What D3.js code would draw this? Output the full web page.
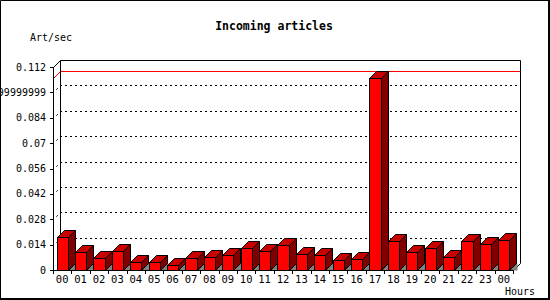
<!DOCTYPE html>
<html>
<head>
<meta charset="utf-8">
<script src="https://cdn.jsdelivr.net/npm/d3@7"></script>
<style>
html,body{margin:0;padding:0;background:#fff;}
svg{display:block;}
text{font-family:"DejaVu Sans Mono",monospace;fill:#000;}
</style>
</head>
<body>
<svg id="chart" width="550" height="300"></svg>
<script>
const hours = ["00","01","02","03","04","05","06","07","08","09","10","11","12","13","14","15","16","17","18","19","20","21","22","23","00"];
const values = [0.0181,0.0098,0.0064,0.0103,0.0042,0.0042,0.0026,0.0064,0.0070,0.0081,0.0120,0.0103,0.0136,0.0087,0.0081,0.0054,0.0059,0.1058,0.0158,0.0098,0.0120,0.0070,0.0158,0.0142,0.0164];
const yTicks = [0,0.014,0.028,0.042,0.056,0.07,0.084,0.098,0.112];
const yTickLabels = ["0","0.014","0.028","0.042","0.056","0.07","0.084","0.09799999999999999","0.112"];
const title = "Incoming articles";
const yTitle = "Art/sec";
const xTitle = "Hours";

const svg = d3.select("#chart");
const D = 7; // 3D depth
const x0 = 53, x1 = 513, yBase = 270, yTop = 67;

const x = d3.scaleBand().domain(d3.range(hours.length)).range([x0, x1]).paddingInner(0.4).paddingOuter(0.2);
const y = d3.scaleLinear().domain([0, 0.112]).range([yBase, yTop]);

svg.append("rect").attr("x",0).attr("y",0).attr("width",550).attr("height",300).attr("fill","#fff");

// title texts
svg.append("text").attr("x",274).attr("y",30).attr("text-anchor","middle")
  .style("font-size","11.5px").style("font-weight","bold").text(title);
svg.append("text").attr("x",30).attr("y",41).style("font-size","10px").text(yTitle);
svg.append("text").attr("x",505).attr("y",295).style("font-size","10px").text(xTitle);

// back wall gridlines
const grid = svg.append("g");
yTicks.slice(1, -1).forEach(v => {
  const yf = Math.round(y(v)) + 0.5;
  grid.append("line").attr("x1",x0+D).attr("x2",x1+D).attr("y1",yf-D).attr("y2",yf-D)
    .attr("stroke","#000").attr("stroke-dasharray","2,3");
  grid.append("line").attr("x1",x0+0.5).attr("x2",x0+D+0.5).attr("y1",yf).attr("y2",yf-D)
    .attr("stroke","#000").attr("stroke-dasharray","2,4").attr("stroke-dashoffset",-4);
});

// max line
const maxV = d3.max(values);
const ym = Math.round(y(maxV)) + 0.5;
svg.append("polyline").attr("fill","none").attr("stroke","#f00")
  .attr("points", `${x0+0.5},${ym} ${x0+D+0.5},${ym-D} ${x1+D+0.5},${ym-D}`);

// back frame
const frame = svg.append("g").attr("fill","none").attr("stroke","#000");
frame.append("polyline").attr("points",
  `${x0+0.5},${yTop+0.5} ${x0+D+0.5},${yTop-D+0.5} ${x1+D+0.5},${yTop-D+0.5} ${x1+D+0.5},${yBase-D+0.5} ${x1+0.5},${yBase+0.5}`);
frame.append("line").attr("x1",x0+D+0.5).attr("x2",x0+D+0.5).attr("y1",yTop-D+0.5).attr("y2",yBase-D+0.5);

// bars
const bars = svg.append("g").attr("stroke","#000").attr("stroke-width",1).attr("stroke-linejoin","miter");
values.forEach((v, i) => {
  const xl = Math.round(x(i)) + 0.5;
  const xr = Math.round(x(i) + x.bandwidth()) + 0.5;
  const yt = Math.round(y(v)) + 0.5;
  const yb = yBase + 0.5;
  bars.append("polygon").attr("fill","#808080").attr("stroke","none")
    .attr("points", `${xr},${yb} ${xr+D},${yb-D} ${xr+D+1},${yb-D} ${xr+D+1},${yb} `);
  bars.append("polygon").attr("fill","#800000")
    .attr("points", `${xr},${yb} ${xr},${yt} ${xr+D},${yt-D} ${xr+D},${yb-D}`);
  bars.append("polygon").attr("fill","#c80000")
    .attr("points", `${xl},${yt} ${xl+D},${yt-D} ${xr+D},${yt-D} ${xr},${yt}`);
  bars.append("rect").attr("fill","#ff0000")
    .attr("x", xl).attr("y", yt).attr("width", xr-xl).attr("height", yb-yt);
});

// front axes
const ax = svg.append("g").attr("stroke","#000").attr("fill","none");
ax.append("line").attr("x1",x0+0.5).attr("x2",x0+0.5).attr("y1",yTop).attr("y2",yBase+4);
ax.append("line").attr("x1",x0-3).attr("x2",x1+1).attr("y1",yBase+0.5).attr("y2",yBase+0.5);
yTicks.forEach(v => {
  const yf = Math.round(y(v)) + 0.5;
  ax.append("line").attr("x1",x0-3).attr("x2",x0).attr("y1",yf).attr("y2",yf);
});
d3.range(hours.length + 1).forEach(k => {
  const xt = Math.round(x0 + k * x.step()) + 0.5;
  ax.append("line").attr("x1",xt).attr("x2",xt).attr("y1",yBase).attr("y2",yBase+4);
});

// labels
svg.append("g").selectAll("text").data(yTicks).join("text")
  .attr("x",46).attr("y",d => y(d)).attr("dy","0.35em").attr("text-anchor","end")
  .style("font-size","10px").text((d,i) => yTickLabels[i]);
svg.append("g").selectAll("text").data(hours).join("text")
  .attr("x",(d,i) => x(i) + x.bandwidth()/2).attr("y",283).attr("text-anchor","middle")
  .style("font-size","10.5px").text(d => d);

// outer border
svg.append("path").attr("fill","none").attr("stroke","#000")
  .attr("d","M0.5,299 L0.5,0.5 L548,0.5");
svg.append("path").attr("fill","none").attr("stroke","#000").attr("stroke-width",2)
  .attr("d","M549,0 L549,299 L0,299");
</script>
</body>
</html>
